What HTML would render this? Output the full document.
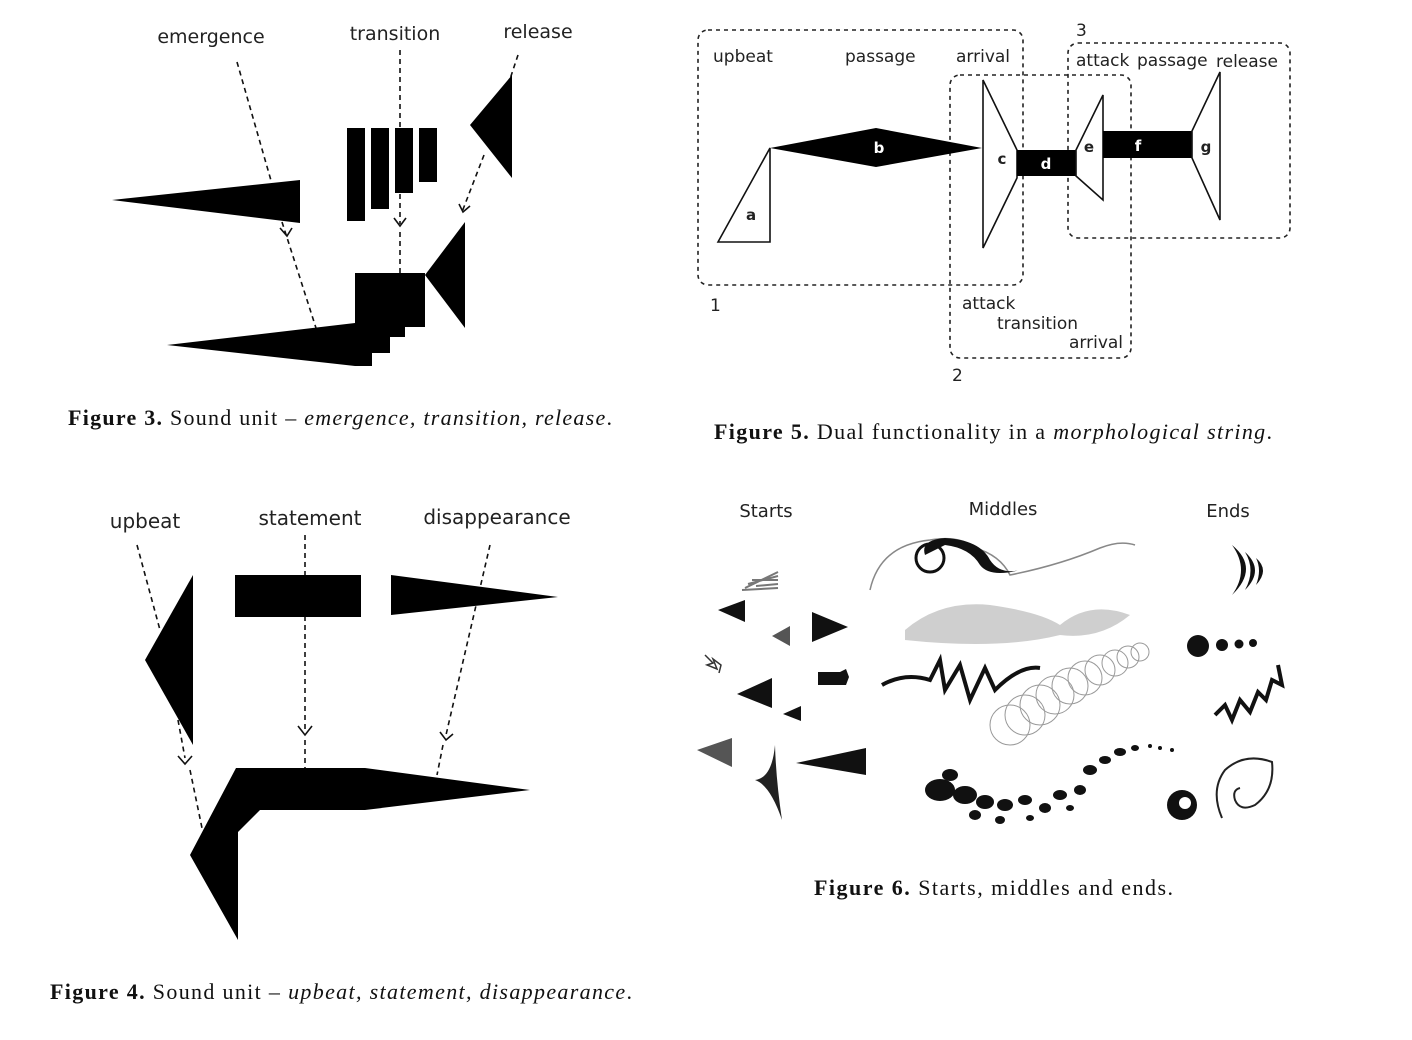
<!DOCTYPE html>
<html><head><meta charset="utf-8"><style>
html,body{margin:0;padding:0;background:#fff;}
svg{display:block;}
.lab{font-family:"DejaVu Sans","Liberation Sans",sans-serif;fill:#222;}
.cap{font-family:"Liberation Serif",serif;font-size:22px;fill:#111;}
.dash{stroke:#111;stroke-width:1.6;stroke-dasharray:5,4;fill:none;}
.box{stroke:#222;stroke-width:1.6;stroke-dasharray:4,4;fill:none;}
.out{fill:#fff;stroke:#111;stroke-width:1.6;}
.arr{stroke:#111;stroke-width:1.6;fill:none;}
</style></head><body>
<svg width="1412" height="1040" viewBox="0 0 1412 1040">
<!-- Figure 3 -->
<g>
<text class="lab" x="211" y="43" font-size="19" text-anchor="middle">emergence</text>
<text class="lab" x="395" y="40" font-size="19" text-anchor="middle">transition</text>
<text class="lab" x="538" y="38" font-size="19" text-anchor="middle">release</text>
<path class="dash" d="M237 62 L272 184 M282 222 L316 328 M400 50 L400 224 M400 232 L400 275 M518 55 L488 145 M484 155 L462 212"/>
<path class="arr" d="M280 228 L287 236 L292 228 M394 218 L400 226 L406 218 M459 204 L463 212 L470 206"/>
<polygon points="112,200 300,180 300,223" fill="#000"/>
<rect x="347" y="128" width="18" height="93" fill="#000"/>
<rect x="371" y="128" width="18" height="81" fill="#000"/>
<rect x="395" y="128" width="18" height="65" fill="#000"/>
<rect x="419" y="128" width="18" height="54" fill="#000"/>
<polygon points="470,125 512,75 512,178" fill="#000"/>
<polygon points="167,345 355,323 355,273 425,273 425,327 405,327 405,337 390,337 390,353 372,353 372,366 355,366" fill="#000"/>
<polygon points="425,275 465,222 465,328" fill="#000"/>
<text class="cap" x="68" y="425" textLength="544" lengthAdjust="spacing"><tspan font-weight="bold">Figure 3.</tspan> Sound unit – <tspan font-style="italic">emergence, transition, release</tspan>.</text>
</g>
<!-- Figure 5 -->
<g>
<rect class="box" x="698" y="30" width="325" height="255" rx="10"/>
<rect class="box" x="950" y="75" width="181" height="283" rx="10"/>
<rect class="box" x="1068" y="43" width="222" height="195" rx="10"/>
<g class="lab" font-size="17">
<text x="713" y="62">upbeat</text>
<text x="845" y="62">passage</text>
<text x="956" y="62">arrival</text>
<text x="1076" y="36">3</text>
<text x="1076" y="66">attack</text>
<text x="1137" y="66">passage</text>
<text x="1216" y="67">release</text>
<text x="710" y="311">1</text>
<text x="952" y="381">2</text>
<text x="962" y="309">attack</text>
<text x="997" y="329">transition</text>
<text x="1069" y="348">arrival</text>
</g>
<polygon class="out" points="718,242 770,148 770,242"/>
<polygon points="770,148 876,128 982,148 876,167" fill="#000"/>
<polygon class="out" points="983,80 1017,150 1017,178 983,248"/>
<rect x="1017" y="150" width="59" height="26" fill="#000"/>
<polygon class="out" points="1076,150 1103,95 1103,200 1076,176"/>
<rect x="1103" y="131" width="89" height="27" fill="#000"/>
<polygon class="out" points="1192,131 1220,72 1220,220 1192,158"/>
<g class="lab" font-size="15" font-weight="bold" text-anchor="middle">
<text x="751" y="220">a</text>
<text x="879" y="153" style="fill:#fff">b</text>
<text x="1002" y="164">c</text>
<text x="1046" y="169" style="fill:#fff">d</text>
<text x="1089" y="152">e</text>
<text x="1138" y="151" style="fill:#fff">f</text>
<text x="1206" y="152">g</text>
</g>
<text class="cap" x="714" y="439" textLength="558" lengthAdjust="spacing"><tspan font-weight="bold">Figure 5.</tspan> Dual functionality in a <tspan font-style="italic">morphological string</tspan>.</text>
</g>
<!-- Figure 4 -->
<g>
<text class="lab" x="145" y="528" font-size="20" text-anchor="middle">upbeat</text>
<text class="lab" x="310" y="525" font-size="20" text-anchor="middle">statement</text>
<text class="lab" x="497" y="524" font-size="20" text-anchor="middle">disappearance</text>
<path class="dash" d="M137 545 L160 630 M178 720 L185 758 M190 770 L202 828 M305 535 L305 732 M305 740 L305 768 M490 545 L446 735 M443 745 L437 775"/>
<path class="arr" d="M178 756 L185 764 L192 756 M298 726 L305 735 L312 726 M440 732 L446 740 L453 734"/>
<polygon points="193,575 145,660 193,745" fill="#000"/>
<rect x="235" y="575" width="126" height="42" fill="#000"/>
<polygon points="391,575 558,597 391,615" fill="#000"/>
<polygon points="190,855 236,768 365,768 530,790 365,810 260,810 238,832 238,940" fill="#000"/>
<text class="cap" x="50" y="999" textLength="582" lengthAdjust="spacing"><tspan font-weight="bold">Figure 4.</tspan> Sound unit – <tspan font-style="italic">upbeat, statement, disappearance</tspan>.</text>
</g>
<!-- Figure 6 -->
<g>
<text class="lab" x="766" y="517" font-size="18" text-anchor="middle">Starts</text>
<text class="lab" x="1003" y="515" font-size="18" text-anchor="middle">Middles</text>
<text class="lab" x="1228" y="517" font-size="18" text-anchor="middle">Ends</text>
<g>
<path d="M745 588 L778 572 M748 584 L778 576 M752 580 L778 580 M756 586 L778 584 M742 590 L778 588" stroke="#777" stroke-width="2"/>
<polygon points="718,610 745,600 745,622" fill="#111"/>
<polygon points="772,636 790,626 790,646" fill="#555"/>
<polygon points="812,612 848,627 812,642" fill="#111"/>
<path d="M705 655 l8 8 l-6 2 l10 4 l-4 -10 l8 6 l-2 8" stroke="#333" stroke-width="1.5" fill="none"/>
<path d="M818 672 h22 l6 -3 l3 8 l-3 8 h-28 z" fill="#111"/>
<polygon points="737,694 772,678 772,708" fill="#111"/>
<polygon points="783,714 801,706 801,721" fill="#111"/>
<polygon points="697,750 732,738 732,767" fill="#555"/>
<polygon points="796,763 866,748 866,775" fill="#111"/>
<path d="M755 780 Q772 778 775 745 Q776 780 782 820 Q770 785 755 780 Z" fill="#222"/>
</g>
<g>
<path d="M870 590 Q880 545 930 540 Q960 535 975 548 Q1000 555 1010 575 Q1060 565 1100 548 Q1120 540 1135 545" stroke="#888" stroke-width="1.5" fill="none"/>
<path d="M925 555 Q920 540 945 538 Q980 540 990 560 Q1000 575 1020 570 Q990 578 980 565 Q970 548 945 545" fill="#111"/>
<circle cx="930" cy="558" r="14" fill="none" stroke="#111" stroke-width="3"/>
<path d="M905 630 Q940 600 990 605 Q1040 612 1060 625 Q1090 600 1130 615 Q1100 640 1060 635 Q1000 650 905 640 Z" fill="#bbb" opacity="0.7"/>
<path d="M882 685 Q905 672 930 680 L940 660 L945 690 L960 665 L970 700 L985 668 L995 690 Q1020 665 1040 668" stroke="#111" stroke-width="4" fill="none"/>
<g fill="none" stroke="#999" stroke-width="1">
<circle cx="1010" cy="725" r="20"/><circle cx="1025" cy="715" r="20"/><circle cx="1040" cy="705" r="20"/><circle cx="1055" cy="695" r="19"/><circle cx="1070" cy="686" r="18"/><circle cx="1085" cy="678" r="17"/><circle cx="1100" cy="670" r="15"/><circle cx="1115" cy="663" r="13"/><circle cx="1128" cy="657" r="11"/><circle cx="1140" cy="652" r="9"/></g>
<g fill="#111"><ellipse cx="940" cy="790" rx="15" ry="11"/><ellipse cx="965" cy="795" rx="12" ry="9"/><ellipse cx="985" cy="802" rx="9" ry="7"/><ellipse cx="950" cy="775" rx="8" ry="6"/><ellipse cx="1005" cy="805" rx="8" ry="6"/><ellipse cx="975" cy="815" rx="6" ry="5"/><ellipse cx="1025" cy="800" rx="7" ry="5"/><ellipse cx="1045" cy="808" rx="6" ry="5"/><ellipse cx="1060" cy="795" rx="7" ry="5"/><ellipse cx="1080" cy="790" rx="6" ry="5"/><ellipse cx="1090" cy="770" rx="7" ry="5"/><ellipse cx="1105" cy="760" rx="6" ry="4"/><ellipse cx="1120" cy="752" rx="6" ry="4"/><ellipse cx="1135" cy="748" rx="4" ry="3"/><ellipse cx="1000" cy="820" rx="5" ry="4"/><ellipse cx="1030" cy="818" rx="4" ry="3"/><ellipse cx="1070" cy="808" rx="4" ry="3"/><circle cx="1150" cy="746" r="2"/><circle cx="1160" cy="748" r="2"/><circle cx="1172" cy="750" r="2"/></g>
</g>
<g>
<path d="M1232 545 Q1260 568 1232 595 Q1250 570 1232 545 Z" fill="#111"/>
<path d="M1245 552 Q1265 570 1245 590 Q1256 570 1245 552 Z" fill="#111"/>
<path d="M1256 558 Q1270 570 1256 585 Q1262 570 1256 558 Z" fill="#111"/>
<circle cx="1198" cy="646" r="11" fill="#111"/><circle cx="1222" cy="645" r="6" fill="#111"/><circle cx="1239" cy="644" r="4.5" fill="#111"/><circle cx="1253" cy="643" r="4" fill="#111"/>
<path d="M1215 715 L1225 705 L1232 720 L1240 700 L1250 712 L1258 692 L1266 700 L1272 680 L1282 685 L1278 665" stroke="#111" stroke-width="4" fill="none"/>
<circle cx="1182" cy="805" r="15" fill="#111"/><circle cx="1185" cy="803" r="6" fill="#fff"/>
<path d="M1222 818 Q1210 790 1225 770 Q1245 752 1272 762 Q1275 790 1255 805 Q1240 812 1235 800 Q1232 790 1240 788" stroke="#222" stroke-width="2" fill="none"/>
</g>
<text class="cap" x="814" y="895" textLength="359" lengthAdjust="spacing"><tspan font-weight="bold">Figure 6.</tspan> Starts, middles and ends.</text>
</g>
</svg>
</body></html>
